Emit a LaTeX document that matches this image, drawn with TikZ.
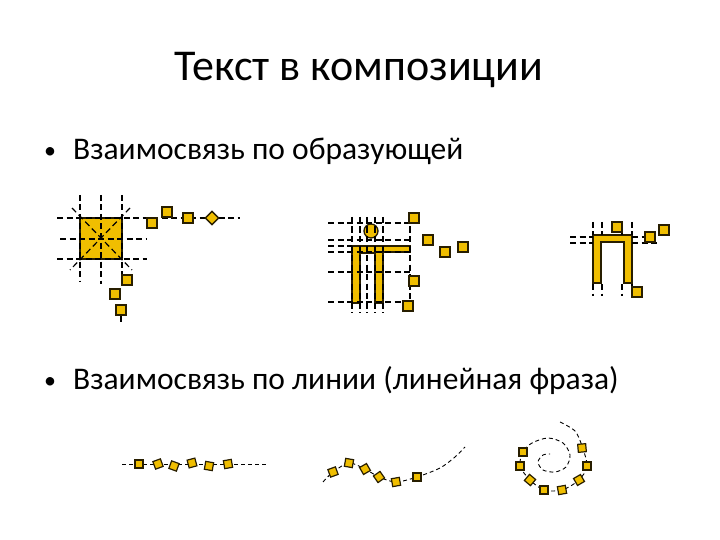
\documentclass[tikz,border=0pt]{standalone}
\usepackage{fontspec}
\setmainfont{Carlito}
\usetikzlibrary{shapes.geometric}
\definecolor{gold}{RGB}{240,190,0}
\definecolor{edge}{RGB}{40,30,0}
\tikzset{
  guide/.style={black, dash pattern=on 6pt off 3.5pt, line width=1.2pt},
  fineguide/.style={black, dash pattern=on 4pt off 3pt, line width=0.9pt},
  cell/.style={rectangle, draw=edge, fill=gold, line width=1.4pt, minimum size=10pt, inner sep=0pt},
  smallcell/.style={cell, minimum size=8pt, line width=1.2pt},
  gem/.style={diamond, draw=edge, fill=gold, line width=1.4pt, minimum size=14pt, inner sep=0pt},
  figure/.style={draw=edge, fill=gold, line width=1.3pt},
  bigtext/.style={inner sep=0pt, font=\fontsize{44}{52}\selectfont},
  itemtext/.style={inner sep=0pt, anchor=base west, font=\fontsize{31.5}{38}\selectfont}
}
\begin{document}
\begin{tikzpicture}[x=1pt,y=-1pt]
\useasboundingbox[fill=white] (0,0) rectangle (720,540);
\node[bigtext, anchor=base] (title) at (359,81) {Текст в композиции};
\node[itemtext, font=\fontsize{24}{30}\selectfont] (dot1) at (44,159) {•};
\node[itemtext] (item1) at (73,160) {Взаимосвязь по образующей};
\node[itemtext, font=\fontsize{24}{30}\selectfont] (dot2) at (44,388) {•};
\node[itemtext] (item2) at (73,389) {Взаимосвязь по линии (линейная фраза)};
% square
\draw[figure] (80,218) rectangle (122,259);
\draw[guide] (80,195) -- (80,282);
\draw[guide] (101,195) -- (101,284);
\draw[guide] (122,195) -- (122,276);
\draw[guide] (57,218) -- (240,218);
\draw[guide] (60,239) -- (147,239);
\draw[guide] (57,259) -- (147,259);
\draw[guide] (72,208) -- (132,270);
\draw[guide] (130,208) -- (70,270);
\draw[guide] (121,316) -- (121,322);
\foreach \x/\y [count=\i] in {152/223,167/212,188/218,127/280,115/294,121/310}
  \node[cell] (sq\i) at (\x,\y) {};
\node[gem] (sqend) at (212,218) {};
% person
\draw[figure] (371,231) circle (7);
\draw[figure] (352,303) -- (352,246) -- (410,246) -- (410,252) -- (383,252) -- (383,303)
  -- (375,303) -- (375,253) -- (360,253) -- (360,303) -- cycle;
\foreach \x in {352,360,367,375,383}
  \draw[guide] (\x,217) -- (\x,313);
\draw[guide] (410,217) -- (410,305);
\foreach \y in {223,240,252,272}
  \draw[guide] (328,\y) -- (410,\y);
\draw[guide] (328,246) -- (352,246);
\draw[guide] (328,302) -- (405,302);
\foreach \x/\y [count=\i] in {414/218,428/240,445/252,463/247,414/281,408/306}
  \node[cell] (man\i) at (\x,\y) {};
% letter
\draw[figure] (593,283) -- (593,235) -- (632,235) -- (632,283) -- (624,283) -- (624,242)
  -- (601,242) -- (601,283) -- cycle;
\draw[guide] (570,237) -- (593,237);
\draw[guide] (570,243) -- (593,243);
\draw[guide] (632,237) -- (646,237);
\draw[guide] (632,243) -- (660,243);
\foreach \x in {593,602,622,632} {
  \draw[guide] (\x,222) -- (\x,235);
  \draw[guide] (\x,284) -- (\x,296);
}
\foreach \x/\y [count=\i] in {617/227,650/237,664/230,637/292}
  \node[cell] (pe\i) at (\x,\y) {};
% straight line
\draw[fineguide] (122,464) -- (268,464);
\foreach \x/\y/\r [count=\i] in {139/464/0,158/464/20,174/466/-20,192/463/15,209/466/-10,228/464/10}
  \node[smallcell, rotate=\r] (ln\i) at (\x,\y) {};
% wave
\draw[fineguide] plot[smooth] coordinates {(323,482) (333,472) (349,463) (365,469) (379,477)
  (396,482) (417,477) (440,468) (455,457) (465,447)};
\foreach \x/\y/\r [count=\i] in {333/472/20,349/463/-10,365/469/30,379/477/35,396/482/10,417/477/0}
  \node[smallcell, rotate=\r] (wv\i) at (\x,\y) {};
% spiral
\draw[fineguide] plot[smooth] coordinates {(560,422) (575,431) (582,446) (587,466) (579,480)
  (562,490) (544,490) (530,480) (520,466) (523,452) (532,443) (548,438) (563,443) (570,455)
  (566,467) (555,472) (543,470) (538,462) (543,455) (550,454)};
\foreach \x/\y/\r [count=\i] in {582/448/5,587/466/0,579/480/30,562/490/10,544/490/0,530/480/-40,520/466/0,523/452/0}
  \node[smallcell, rotate=\r] (sp\i) at (\x,\y) {};
\end{tikzpicture}
\end{document}
